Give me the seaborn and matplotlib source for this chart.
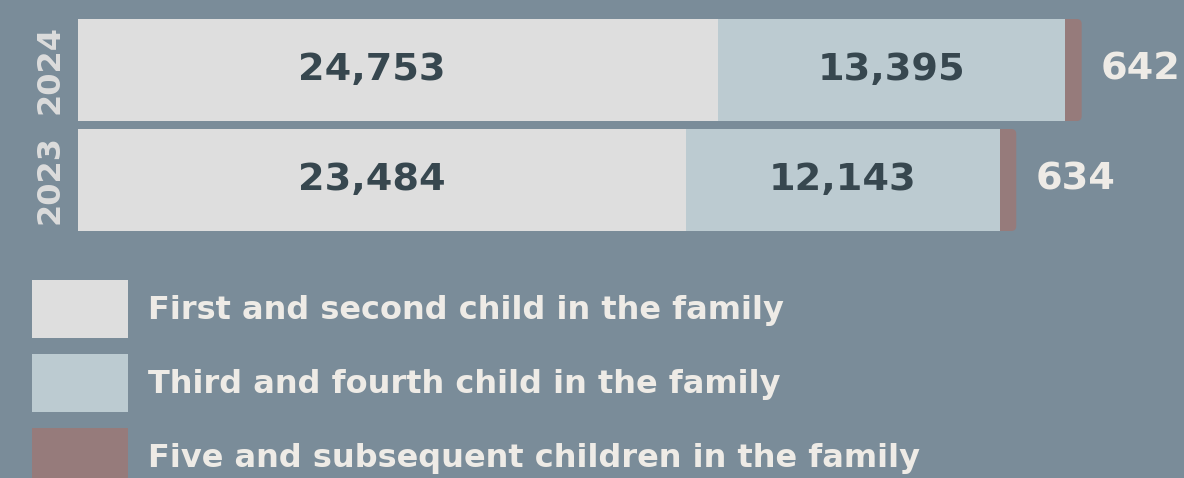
import pandas as pd
import seaborn as sns
import matplotlib.pyplot as plt
from matplotlib.patches import FancyBboxPatch, Patch

# data
years = ['2024', '2023']
first_second = [24753, 23484]
third_fourth = [13395, 12143]
fifth_plus = [642, 634]
legend_labels = ['First and second child in the family',
                 'Third and fourth child in the family',
                 'Five and subsequent children in the family']

colors = ['#dedede', '#bccbd1', '#967b7b']
bg = '#7a8c99'
dark_txt = '#37474f'
light_txt = '#eeebe6'

df = pd.DataFrame({'year': years, 'a': first_second, 'b': third_fourth, 'c': fifth_plus})
df['ab'] = df['a'] + df['b']
df['abc'] = df['ab'] + df['c']

sns.set_style('white')
plt.rcParams['font.family'] = ['DejaVu Sans']

W, H = 1184, 478
fig = plt.figure(figsize=(W / 100, H / 100), dpi=100, facecolor=bg)
ax = fig.add_axes([78 / W, (H - 231) / H, (W - 78) / W, 212 / H])
ax.set_facecolor(bg)

bw = 102 / 110
# stacked bars: draw totals first, then overlay the smaller sums
for col, c in [('abc', colors[2]), ('ab', colors[1]), ('a', colors[0])]:
    sns.barplot(data=df, x=col, y='year', order=years, orient='h', color=c,
                width=bw, saturation=1, linewidth=0, ax=ax)

xmax = 42744
ax.set_xlim(0, xmax)
ax.set_ylim(1 + bw / 2, -bw / 2)
xpp = xmax / (W - 78)          # data units per pixel (x)
ypp = (1 + bw) / 212           # data units per pixel (y)

# rounded right end on the last segment
for rect in list(ax.containers[0]):
    x0, y0, w, h = rect.get_x(), rect.get_y(), rect.get_width(), rect.get_height()
    z = rect.get_zorder()
    rect.remove()
    ax.add_patch(FancyBboxPatch((x0, y0), w, h,
                                boxstyle=f'round,pad=0,rounding_size={5 * xpp}',
                                mutation_aspect=ypp / xpp, fc=colors[2], ec='none',
                                zorder=z - 0.1))

first_label_x = 11360
for i, row in df.iterrows():
    ax.text(first_label_x, i, f"{row['a']:,}", ha='center', va='center',
            fontsize=27.5, fontweight='bold', color=dark_txt)
    ax.text(row['a'] + row['b'] / 2, i, f"{row['b']:,}", ha='center', va='center',
            fontsize=27.5, fontweight='bold', color=dark_txt)
    ax.text(row['abc'] + 19 * xpp, i, f"{row['c']:,}", ha='left', va='center',
            fontsize=27.5, fontweight='bold', color=light_txt)

ax.set_xlabel('')
ax.set_ylabel('')
ax.set_xticks([])
ax.tick_params(axis='y', length=0, pad=9, labelsize=23, labelcolor='#dcdcdc')
for lbl in ax.get_yticklabels():
    lbl.set_rotation(90)
    lbl.set_va('center')
    lbl.set_fontweight('bold')
sns.despine(ax=ax, left=True, bottom=True)

handles = [Patch(fc=c, ec='none') for c in colors]
fig.legend(handles, legend_labels, loc='upper left',
           bbox_to_anchor=(32 / W, (H - 280) / H), bbox_transform=fig.transFigure,
           frameon=False, borderpad=0, borderaxespad=0,
           handlelength=3.006, handleheight=2.4165, handletextpad=0.626, labelspacing=0.501,
           prop={'weight': 'bold', 'size': 23}, labelcolor=light_txt)

fig.savefig('out.png', dpi=100, facecolor=bg)
